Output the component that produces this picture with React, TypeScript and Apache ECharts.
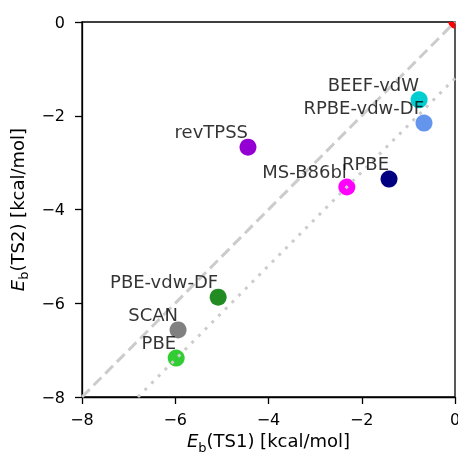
import React, { useEffect, useRef } from 'react';
import * as echarts from 'echarts';

const methods = ['PBE', 'PBE-vdw-DF', 'SCAN', 'revTPSS', 'MS-B86bl', 'RPBE', 'RPBE-vdw-DF', 'BEEF-vdW'];
const ts1 = [-5.98, -5.08, -5.94, -4.44, -2.32, -1.415, -0.665, -0.77];
const ts2 = [-7.17, -5.87, -6.57, -2.67, -3.52, -3.35, -2.155, -1.66];
const colors = ['#32CD32', '#228B22', '#808080', '#9400D3', '#FF00FF', '#000080', '#6495ED', '#00CED1'];
const refX = [0];
const refY = [0];
const parityX = [-8, 0];
const parityY = [-8, 0];
const shiftX = [-6.8, 0];
const shiftY = [-8, -1.2];

const FONT = 'DejaVu Sans';
const minus = (v: number) => (v < 0 ? '\u2212' + Math.abs(v) : String(v));

function richName() {
  return {
    color: '#000',
    fontFamily: FONT,
    rich: {
      i: { fontStyle: 'italic', fontSize: 18, fontFamily: FONT, color: '#000', lineHeight: 26 },
      s: { fontSize: 13, fontFamily: FONT, color: '#000', verticalAlign: 'bottom', lineHeight: 13 },
      n: { fontSize: 18, fontFamily: FONT, color: '#000', lineHeight: 26 },
    },
  };
}

export default function App() {
  const ref = useRef<HTMLDivElement>(null);
  useEffect(() => {
    const chart = echarts.init(ref.current!, null, { renderer: 'svg' });
    const axisCommon = {
      type: 'value' as const,
      min: -8,
      max: 0,
      interval: 2,
      nameLocation: 'middle' as const,
      axisLine: { onZero: false, lineStyle: { color: '#000', width: 1.3 } },
      axisTick: { inside: false, length: 7, lineStyle: { color: '#000', width: 1.3 } },
      splitLine: { show: false },
    };
    const points = methods.map((m, i) => ({
      name: m,
      value: [ts1[i], ts2[i]],
      itemStyle: { color: colors[i], opacity: 1 },
    }));
    chart.setOption({
      animation: false,
      grid: {
        left: 82,
        right: 3,
        top: 22,
        bottom: 59,
        show: true,
        borderColor: '#000',
        borderWidth: 1.3,
        outerBoundsMode: 'none',
        containLabel: false,
      },
      xAxis: {
        ...axisCommon,
        name: '{i|E}{s|b}{n|(TS1) [kcal/mol]}',
        nameGap: 30,
        nameTextStyle: richName(),
        axisLabel: { color: '#000', fontSize: 16, fontFamily: FONT, margin: 14, formatter: minus },
      },
      yAxis: {
        ...axisCommon,
        name: '{i|E}{s|b}{n|(TS2) [kcal/mol]}',
        nameGap: 52,
        nameTextStyle: richName(),
        axisLabel: { color: '#000', fontSize: 16, fontFamily: FONT, margin: 17, formatter: minus },
      },
      series: [
        {
          type: 'custom',
          z: 2,
          clip: true,
          data: refX.map((x, i) => [x, refY[i]]),
          renderItem: (params: any, api: any) => {
            const c = api.coord([api.value(0), api.value(1)]);
            const r = 6.5;
            const pts: number[][] = [[c[0], c[1]]];
            for (let k = 0; k <= 8; k++) {
              const a = Math.PI / 2 + (k / 8) * (Math.PI / 2);
              pts.push([c[0] + r * Math.cos(a), c[1] + r * Math.sin(a)]);
            }
            return {
              type: 'polygon',
              shape: { points: pts },
              style: { fill: '#FF0000' },
            };
          },
        },
        {
          type: 'scatter',
          z: 2,
          symbolSize: 17,
          itemStyle: { opacity: 1 },
          data: points,
        },
        {
          type: 'line',
          z: 3,
          symbol: 'none',
          lineStyle: { color: '#cccccc', width: 3, type: [11, 5.5] },
          data: parityX.map((x, i) => [x, parityY[i]]),
        },
        {
          type: 'line',
          z: 3,
          symbol: 'none',
          lineStyle: { color: '#cccccc', width: 3, type: [3, 6.5] },
          data: shiftX.map((x, i) => [x, shiftY[i]]),
        },
        {
          type: 'scatter',
          z: 5,
          symbolSize: 17,
          itemStyle: { color: 'transparent' },
          label: {
            show: true,
            position: 'top',
            distance: -2,
            align: 'right',
            formatter: '{b}',
            color: '#000',
            fontSize: 18,
            fontFamily: FONT,
          },
          data: points.map((p) => ({ name: p.name, value: p.value })),
        },
      ],
    });
    return () => chart.dispose();
  }, []);
  return <div ref={ref} style={{ position: 'fixed', left: 0, top: 0, width: 458, height: 456 }} />;
}
